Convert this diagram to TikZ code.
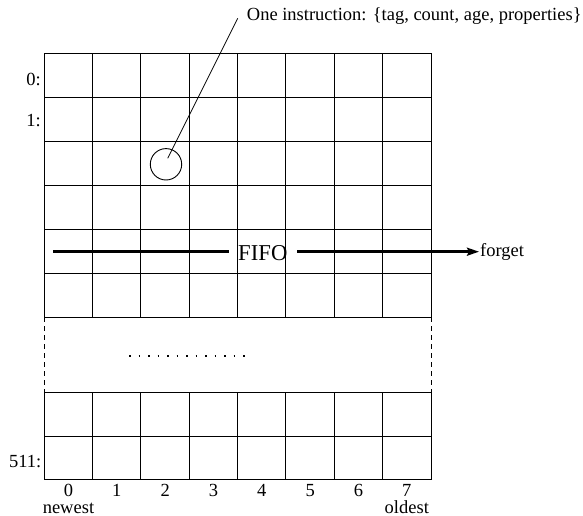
\documentclass[tikz,border=0pt]{standalone}
\usepackage{fontspec}
\setmainfont{Liberation Serif}
\usetikzlibrary{arrows.meta}
\begin{document}
\begin{tikzpicture}[x=1pt,y=-1pt,
  gridline/.style={line width=1pt, line cap=rect},
  dashline/.style={line width=1pt, dash pattern=on 5pt off 4pt},
  lab/.style={inner sep=0pt, font=\fontsize{18.5}{22}\selectfont},
  fifofont/.style={font=\fontsize{22.7}{26}\selectfont, inner xsep=9.5pt, inner ysep=0pt},
  thick line/.style={line width=2.8pt}]
\useasboundingbox (0,0) rectangle (583,516);
\def\xl{44.3}
\def\xr{431}
\def\cw{48.3375}
\def\rh{43.933}
% top block of rows
\foreach \i in {0,...,6} \draw[gridline] (\xl,{53.7+\i*\rh}) -- (\xr,{53.7+\i*\rh});
\foreach \j in {0,...,8} \draw[gridline] ({\xl+\j*\cw},53.7) -- ({\xl+\j*\cw},317.3);
% gap with dashed sides
\draw[dashline] (\xl,317.3) -- (\xl,392.7);
\draw[dashline] (\xr,317.3) -- (\xr,392.7);
\draw[line width=1.6pt, dash pattern=on 1.6pt off 7.9pt] (129.1,355.7) -- (245,355.7);
% bottom block of rows
\foreach \y in {392.7,436.1,479.5} \draw[gridline] (\xl,\y) -- (\xr,\y);
\foreach \j in {0,...,8} \draw[gridline] ({\xl+\j*\cw},392.7) -- ({\xl+\j*\cw},479.5);
% one instruction
\node[circle, draw, line width=0.9pt, minimum size=31.4pt, inner sep=0pt] (inst) at (166,164.3) {};
\coordinate (instpt) at (167.7,158.3);
\coordinate (lblpt) at (237.7,18.3);
\node[lab, anchor=base west] (lbl) at (246.7,20.5) {One instruction: \{tag, count, age, properties\}};
\draw[line width=0.8pt] (instpt) -- (lblpt);
% FIFO
\coordinate (fifoL) at (53.3,251.7);
\node[fifofont, anchor=base] (fifo) at (262.8,260) {FIFO};
\node[lab, anchor=base west, inner xsep=1pt] (forget) at (479,256) {forget};
\draw[thick line] (fifoL) -- (fifo.west |- fifoL);
\draw[thick line, -{Stealth[length=12pt,width=8pt,inset=2pt]}] (fifo.east |- fifoL) -- (forget.west |- fifoL);
% row labels
\node[lab, anchor=base east] (r0) at (41,85.7) {0:};
\node[lab, anchor=base east] (r1) at (41,127) {1:};
\node[lab, anchor=base east] (r511) at (41.5,467.3) {511:};
% column labels
\foreach \j in {0,...,7} \node[lab, anchor=base] (c\j) at ({\xl+(\j+0.5)*\cw},496.5) {\j};
\node[lab, anchor=base] (newest) at ({\xl+0.5*\cw},513) {newest};
\node[lab, anchor=base] (oldest) at ({\xl+7.5*\cw},513) {oldest};
\end{tikzpicture}
\end{document}
